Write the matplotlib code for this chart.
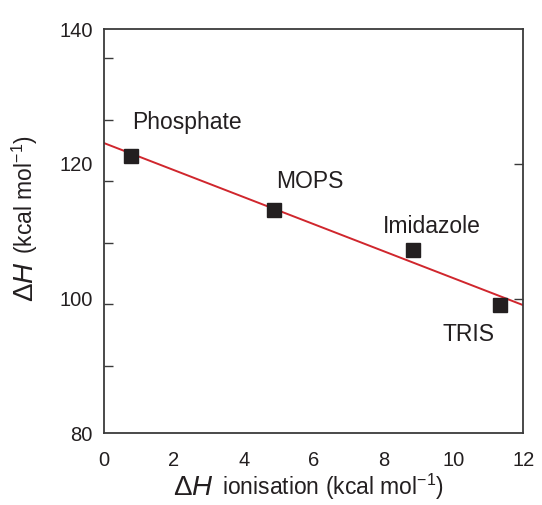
import numpy as np
import matplotlib
matplotlib.use("Agg")
import matplotlib.pyplot as plt

plt.rcParams['font.family'] = ['Liberation Sans', 'DejaVu Sans']
plt.rcParams['mathtext.fontset'] = 'custom'
plt.rcParams['mathtext.rm'] = 'Liberation Sans'
plt.rcParams['mathtext.it'] = 'Liberation Sans:italic'

# buffers
buffers = ['Phosphate', 'MOPS', 'Imidazole', 'TRIS']
dh_ionisation = [0.77, 4.87, 8.85, 11.33]   # kcal/mol
dh_binding = [121.2, 113.2, 107.2, 99.0]    # kcal/mol

# where the buffer names sit (left edge, baseline), data coords
label_pos = [(0.80, 125.2), (4.92, 116.5), (7.97, 109.8), (9.69, 93.7)]

RED = '#d0262d'
INK = '#231f20'
AXC = '#3a3a3a'

fig = plt.figure(figsize=(5.42, 5.05), dpi=100)
ax = fig.add_axes([0.1919, 0.1420, 0.9655 - 0.1919, 0.942 - 0.1420])

# linear fit through the four buffers
slope, icpt = np.polyfit(dh_ionisation, dh_binding, 1)
xf = np.array([0, 12])
ax.plot(xf, icpt + slope * xf, color=RED, lw=1.4, zorder=2)
ax.plot(dh_ionisation, dh_binding, 's', color=INK, ms=9.8, zorder=3, clip_on=False)

for name, (tx, ty) in zip(buffers, label_pos):
    ax.text(tx, ty, name, fontsize=16.5, color=INK, ha='left', va='baseline')

ax.set_xlim(0, 12)
ax.set_ylim(80, 140)

for s in ax.spines.values():
    s.set_color(AXC)
    s.set_linewidth(1.3)

# labels at the main values, tick marks drawn separately as minor ticks
ax.set_xticks([0, 2, 4, 6, 8, 10, 12])
ax.set_yticks([80, 100, 120, 140])
ax.tick_params(axis='both', which='major', length=0, labelsize=14.5,
               colors=INK)
ax.tick_params(axis='x', pad=13)
ax.tick_params(axis='y', pad=8)

ax.set_xticks([2, 4, 6, 8, 10], minor=True)
ax.set_yticks([90, 99.2, 108.3, 117.4, 126.6, 135.8], minor=True)
ax.tick_params(axis='x', which='minor', direction='in', length=6.5,
               width=1.0, color=AXC, top=True, bottom=True)
ax.tick_params(axis='y', which='minor', direction='in', length=6.5,
               width=1.0, color=AXC, left=True, right=False)
ax2 = ax.secondary_yaxis('right')
ax2.set_yticks([100, 120])
ax2.tick_params(direction='in', length=6.5, width=1.0, color=AXC,
                labelright=False)
ax2.spines['right'].set_visible(False)

# axis labels: big Delta H + smaller text
W, H = 542, 505
fig.text(172.7 / W, 1 - 495 / H, r'$\Delta\mathit{H}$', fontsize=20,
         color=INK, ha='left', va='baseline')
fig.text(221.7 / W, 1 - 495 / H, r'ionisation (kcal mol$^{\mathregular{-1}}$)',
         fontsize=16.5, color=INK, ha='left', va='baseline')

fig.text(33 / W, 1 - 301.7 / H, r'$\Delta\mathit{H}$', fontsize=20,
         color=INK, rotation=90, rotation_mode='anchor',
         ha='left', va='baseline')
fig.text(33 / W, 1 - 254 / H, r'(kcal mol$^{\mathregular{-1}}$)',
         fontsize=16.5, color=INK, rotation=90, rotation_mode='anchor',
         ha='left', va='baseline')

fig.savefig('out.png', dpi=100)
